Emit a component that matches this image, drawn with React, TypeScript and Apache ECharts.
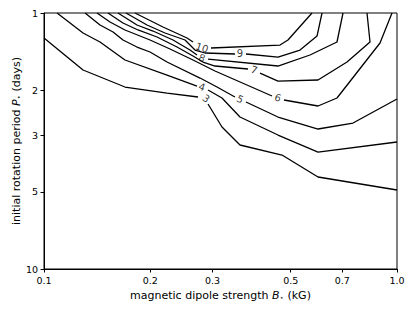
import React, { useEffect, useRef } from 'react';
import * as echarts from 'echarts';

// Axis ticks
const xTicks = [0.1, 0.2, 0.3, 0.5, 0.7, 1.0];
const xTickLabels = ['0.1', '0.2', '0.3', '0.5', '0.7', '1.0'];
const yTicks = [1, 2, 3, 5, 10];
const yTickLabels = ['1', '2', '3', '5', '10'];

// Contour levels
const levels = ['3', '4', '5', '6', '7', '8', '9', '10'];

// Contour paths: [B (kG), P (days)], split where the inline label sits
const c3Left = [[0.1, 1.252], [0.129, 1.67], [0.1696, 1.946], [0.2231, 2.054], [0.2731, 2.129]];
const c3Right = [[0.2915, 2.267], [0.3193, 2.789], [0.3591, 3.278], [0.4723, 3.587], [0.5974, 4.372], [1.0, 4.914]];
const c4Left = [[0.1089, 1.0], [0.129, 1.197], [0.1441, 1.298], [0.1696, 1.526], [0.2231, 1.747], [0.2713, 1.929]];
const c4Right = [[0.2915, 1.999], [0.3193, 2.148], [0.3591, 2.549], [0.4601, 2.997], [0.5974, 3.492], [1.0, 3.191]];
const c5Left = [[0.1307, 1.0], [0.1441, 1.114], [0.1569, 1.186], [0.1674, 1.275], [0.1834, 1.358], [0.1997, 1.42], [0.2231, 1.554], [0.2767, 1.795], [0.3091, 1.946], [0.3475, 2.129]];
const c5Right = [[0.3734, 2.227], [0.4601, 2.549], [0.5974, 2.839], [0.7506, 2.69], [1.0, 2.168]];
const c6Left = [[0.1413, 1.0], [0.1538, 1.084], [0.1696, 1.165], [0.1997, 1.275], [0.2275, 1.382], [0.2643, 1.526], [0.3051, 1.685], [0.4425, 2.11]];
const c6Right = [[0.4785, 2.187], [0.5974, 2.308], [0.6761, 2.148], [0.8951, 1.31], [0.9679, 1.0]];
const c7Left = [[0.1518, 1.0], [0.1674, 1.094], [0.1846, 1.165], [0.209, 1.241], [0.2381, 1.358], [0.2643, 1.472], [0.2821, 1.554], [0.3051, 1.611], [0.3783, 1.655]];
const c7Right = [[0.4092, 1.716], [0.4601, 1.844], [0.5974, 1.827], [0.7218, 1.554], [0.8386, 1.298], [0.8223, 1.0]];
const c8Left = [[0.162, 1.0], [0.1834, 1.114], [0.2036, 1.176], [0.232, 1.275], [0.2592, 1.395], [0.2713, 1.459]];
const c8Right = [[0.2915, 1.513], [0.4601, 1.611], [0.567, 1.459], [0.6761, 1.298], [0.7031, 1.0]];
const c9Left = [[0.1707, 1.0], [0.1958, 1.114], [0.2202, 1.197], [0.2509, 1.275], [0.2678, 1.395], [0.2858, 1.433], [0.3475, 1.446]];
const c9Right = [[0.3734, 1.446], [0.4601, 1.486], [0.5312, 1.395], [0.5935, 1.23], [0.6132, 1.0]];
const c10Left = [[0.181, 1.0], [0.2173, 1.134], [0.2542, 1.252], [0.2643, 1.298]];
const c10Right = [[0.2972, 1.37], [0.4662, 1.334], [0.4911, 1.275], [0.5744, 1.0]];

// Inline label anchor points, same order as levels
const labelPoints = [
  [0.2877, 2.158], [0.2803, 1.946], [0.3591, 2.168], [0.4601, 2.142],
  [0.3935, 1.67], [0.2803, 1.5], [0.3591, 1.436], [0.2803, 1.366],
];

const lefts = [c3Left, c4Left, c5Left, c6Left, c7Left, c8Left, c9Left, c10Left];
const rights = [c3Right, c4Right, c5Right, c6Right, c7Right, c8Right, c9Right, c10Right];

const FONT = 'DejaVu Sans';

function fmt(ticks: number[], labels: string[]) {
  return (v: number) => {
    for (let i = 0; i < ticks.length; i++) {
      if (Math.abs(ticks[i] - v) < 1e-6 * ticks[i]) return labels[i];
    }
    return '';
  };
}

function buildOption(rots: number[]) {
  const series: any[] = [];
  for (let i = 0; i < levels.length; i++) {
    [lefts[i], rights[i]].forEach((d) => {
      series.push({
        type: 'line',
        data: d,
        showSymbol: false,
        symbol: 'none',
        silent: true,
        lineStyle: { color: '#000', width: 1.3 },
        z: 3,
      });
    });
  }
  series.push({
    type: 'scatter',
    symbolSize: 1,
    itemStyle: { color: 'rgba(0,0,0,0)' },
    silent: true,
    z: 4,
    data: labelPoints.map((p, i) => ({
      value: p,
      label: {
        show: true,
        position: 'inside',
        formatter: levels[i],
        rotate: rots[i],
        color: '#000',
        fontSize: 10,
        fontFamily: FONT,
      },
    })),
  });

  const nameRich = {
    i: { fontStyle: 'italic', fontSize: 11, fontFamily: FONT, color: '#000' },
    s: { fontSize: 7, fontFamily: FONT, color: '#000', padding: [5, 0, 0, 0] },
  };

  return {
    animation: false,
    backgroundColor: '#fff',
    grid: {
      left: 44, top: 13, right: 18, bottom: 42,
      outerBoundsMode: 'none',
      containLabel: false,
      show: true, borderColor: '#000', borderWidth: 1, backgroundColor: 'transparent',
    },
    xAxis: {
      type: 'log',
      logBase: 10,
      min: 0.1,
      max: 1,
      name: 'magnetic dipole strength {i|B}{s|⋆} (kG)',
      nameLocation: 'middle',
      nameGap: 19,
      nameTextStyle: { fontSize: 11, fontFamily: FONT, color: '#000', rich: nameRich },
      axisLine: { show: true, onZero: false, lineStyle: { color: '#000', width: 1 } },
      axisTick: { show: true, length: 3.5, customValues: xTicks, lineStyle: { color: '#000', width: 1 } },
      minorTick: { show: false },
      axisLabel: {
        customValues: xTicks,
        formatter: fmt(xTicks, xTickLabels),
        color: '#000', fontSize: 9.5, fontFamily: FONT, margin: 6,
      },
      splitLine: { show: false },
    },
    yAxis: {
      type: 'log',
      logBase: 10,
      min: 1,
      max: 10,
      inverse: true,
      name: 'initial rotation period {i|P}{s|⋆} (days)',
      nameLocation: 'middle',
      nameRotate: 90,
      nameGap: 22,
      nameMoveOverlap: false,
      nameTextStyle: { fontSize: 11, fontFamily: FONT, color: '#000', rich: nameRich },
      axisLine: { show: true, onZero: false, lineStyle: { color: '#000', width: 1 } },
      axisTick: { show: true, length: 3.5, customValues: yTicks, lineStyle: { color: '#000', width: 1 } },
      minorTick: { show: false },
      axisLabel: {
        customValues: yTicks,
        formatter: fmt(yTicks, yTickLabels),
        color: '#000', fontSize: 9.5, fontFamily: FONT, margin: 6,
      },
      splitLine: { show: false },
    },
    series,
  };
}

export default function App() {
  const ref = useRef<HTMLDivElement>(null);
  useEffect(() => {
    if (!ref.current) return;
    const chart = echarts.init(ref.current, null, { renderer: 'svg' });
    chart.setOption(buildOption(levels.map(() => 0)));
    const rots = levels.map((_, i) => {
      const l = lefts[i];
      const a = chart.convertToPixel({ gridIndex: 0 }, l[l.length - 1]) as number[];
      const b = chart.convertToPixel({ gridIndex: 0 }, rights[i][0]) as number[];
      if (!a || !b) return 0;
      return -Math.atan2(b[1] - a[1], b[0] - a[0]) * 180 / Math.PI;
    });
    chart.setOption(buildOption(rots), true);
    return () => chart.dispose();
  }, []);
  return (
    <div
      ref={ref}
      style={{ position: 'absolute', left: 0, top: 0, width: 415, height: 311, background: '#fff' }}
    />
  );
}
